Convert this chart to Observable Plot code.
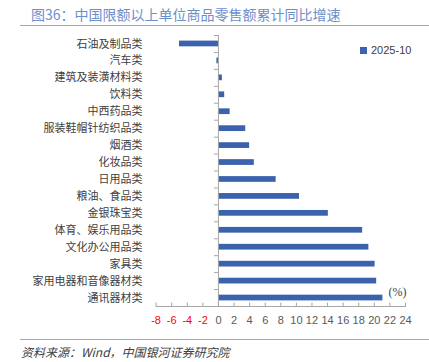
<!DOCTYPE html>
<html><head><meta charset="utf-8">
<script src="https://cdn.jsdelivr.net/npm/d3@7"></script>
<script src="https://cdn.jsdelivr.net/npm/@observablehq/plot@0.6"></script>
<style>
body{margin:0;background:#fff;width:429px;height:362px;position:relative;overflow:hidden;font-family:"Noto Sans CJK SC",sans-serif;}
#title{position:absolute;left:31px;top:4px;font-size:14px;color:#6d8ecb;white-space:nowrap;line-height:20px;}
#tline{position:absolute;left:20px;right:0;top:25px;height:0;border-top:1px solid #8eaadb;}
#bline{position:absolute;left:20px;right:0;top:339px;height:0;border-top:1px solid #8eaadb;}
#caption{position:absolute;left:21px;top:343px;font-size:12px;font-style:italic;color:#404040;white-space:nowrap;line-height:18px;}
#chart{position:absolute;left:0;top:28px;}
#legend{position:absolute;left:360px;top:42px;font-family:"Liberation Sans",sans-serif;font-size:11px;color:#404040;line-height:16px;white-space:nowrap;}
#legend span.sw{display:inline-block;width:7px;height:7px;background:#3a62ad;margin-right:4px;vertical-align:0px;}
</style>
</head><body>
<div id="title">图36：中国限额以上单位商品零售额累计同比增速</div>
<div id="tline"></div>
<div id="chart"></div>
<div id="legend"><span class="sw"></span>2025-10</div>
<div id="bline"></div>
<div id="caption">资料来源：Wind，中国银河证券研究院</div>
<script>
const categories = ["石油及制品类","汽车类","建筑及装潢材料类","饮料类","中西药品类","服装鞋帽针纺织品类","烟酒类","化妆品类","日用品类","粮油、食品类","金银珠宝类","体育、娱乐用品类","文化办公用品类","家具类","家用电器和音像器材类","通讯器材类"];
const values = [-5.0,-0.2,0.5,0.8,1.5,3.5,4.0,4.6,7.4,10.4,14.1,18.5,19.3,20.1,20.3,21.1];
const xTicks = [-8,-6,-4,-2,0,2,4,6,8,10,12,14,16,18,20,22,24];
const seriesName = "2025-10";
const unitLabel = "(%)";

const data = categories.map((c,i)=>({cat:c, value:values[i]}));
const W = 429, H = 306, mT = 7, mB = 28, mL = 155.6, mR = 24;
const frameH = H - mT - mB;
const step = frameH / categories.length;
const x0px = mL + (0 - (-8)) / 32 * (W - mL - mR);

const plot = Plot.plot({
  width: W, height: H,
  marginTop: mT, marginBottom: mB, marginLeft: mL, marginRight: mR,
  style: {fontFamily: '"Noto Sans CJK SC", sans-serif', fontSize: "11px", color: "#404040", background: "transparent"},
  x: {domain: [-8, 24], axis: null},
  y: {type: "band", domain: categories, padding: 0, round: false},
  marks: [
    Plot.barX(data, {x: "value", y: "cat", fill: "#3a62ad", insetTop: 5.6, insetBottom: 5.6}),
    Plot.ruleX([0], {stroke: "#a6a6a6"}),
    Plot.frame({anchor: "bottom", stroke: "#a6a6a6"}),
    Plot.tickX(xTicks, {x: d => d, stroke: "#a6a6a6", insetTop: frameH - 3.5}),
    Plot.tickY(data, {y: "cat", dy: -step/2, stroke: "#a6a6a6", insetLeft: x0px - mL - 4, insetRight: W - mR - x0px}),
    Plot.text(xTicks, {x: d => d, frameAnchor: "bottom", dy: 17, text: d => String(d), fill: d => d < 0 ? "#ff0000" : "#595959", fontFamily: '"Liberation Sans", sans-serif', fontSize: 11}),
    Plot.text([unitLabel], {frameAnchor: "bottom-right", dy: -11, dx: 1, textAnchor: "end", fill: "#404040", fontFamily: '"Liberation Serif", serif', fontSize: 12}),
    Plot.axisY({anchor: "left", tickSize: 0, tickPadding: mL - 142, label: null, fill: "#404040", fontSize: 11})
  ]
});
document.getElementById("chart").appendChild(plot);
</script>
</body></html>
